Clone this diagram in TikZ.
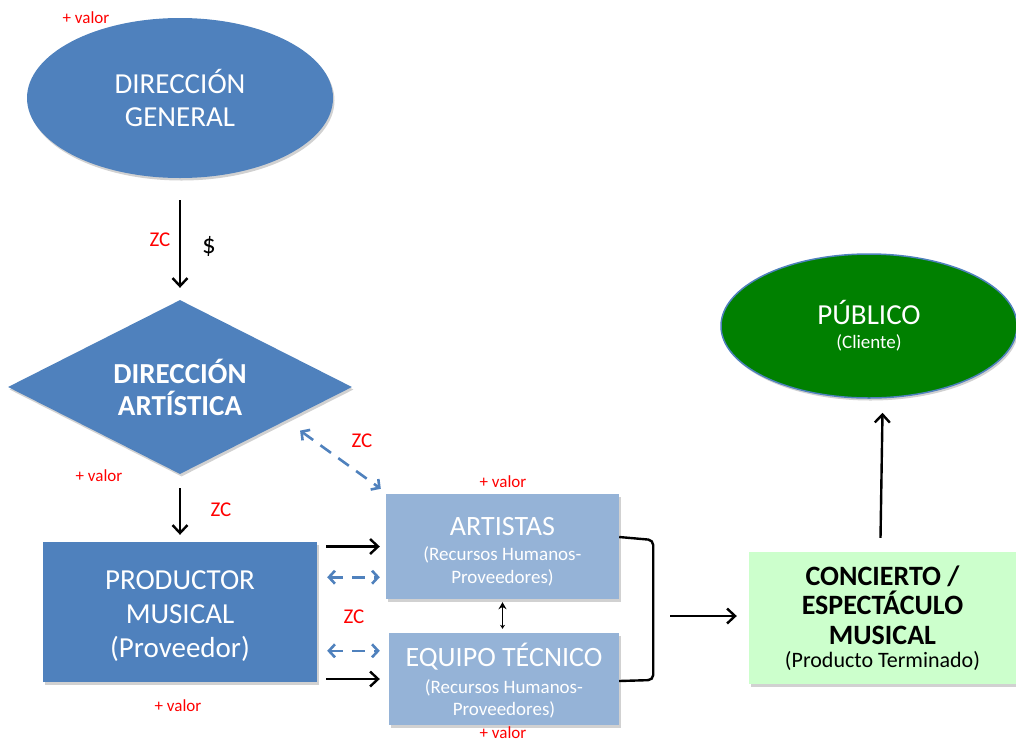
\documentclass[tikz,border=0pt]{standalone}
\usepackage{fontspec}
\setmainfont{Carlito}
\usetikzlibrary{shapes.geometric,arrows.meta,shadows,calc}

\definecolor{darkblue}{HTML}{4F81BD}
\definecolor{lightblue}{HTML}{95B3D7}
\definecolor{pubgreen}{HTML}{008000}
\definecolor{paleGreen}{HTML}{CCFFCC}

\newcommand{\fsz}[2]{\fontsize{#1}{#2}\selectfont}

\tikzset{
  softshadow/.style={drop shadow={shadow xshift=1.5pt,shadow yshift=-2.5pt,opacity=0.18,fill=black}},
  oval/.style={ellipse,inner sep=0pt,align=center,text=white,softshadow},
  boxnode/.style={rectangle,inner sep=0pt,align=center,softshadow},
  flowarrow/.style={line width=2.4pt,-{Straight Barb[length=8pt,width=15pt,line width=2.4pt]}},
  dasharrow/.style={line width=2.6pt,darkblue,dash pattern=on 13pt off 9pt,
    {Straight Barb[length=6pt,width=13pt,line width=2.6pt]}-{Straight Barb[length=6pt,width=13pt,line width=2.6pt]}},
  redlabel/.style={text=red,font=\fsz{17}{19},inner sep=0pt},
  zclabel/.style={text=red,font=\fsz{21}{23},inner sep=0pt},
}

\begin{document}
\begin{tikzpicture}[x=1pt,y=-1pt]
\useasboundingbox (0,0) rectangle (1016,742);

% Shapes
\node[oval,fill=darkblue,minimum width=306pt,minimum height=160pt,
      font=\fsz{29}{33}] (dg) at (180,98) {DIRECCIÓN\\GENERAL};

\node[diamond,fill=darkblue,inner sep=0pt,minimum width=344pt,minimum height=174pt,
      aspect=1.98,align=center,text=white,softshadow,
      font=\bfseries\fsz{29}{32}] (da) at (180,387) {\rule{0pt}{24pt}DIRECCIÓN\\ARTÍSTICA};

\node[boxnode,fill=darkblue,minimum width=274pt,minimum height=140pt,text=white,
      font=\fsz{29}{34}] (prod) at (180,612) {\rule{0pt}{26pt}PRODUCTOR\\MUSICAL\\(Proveedor)};

\node[boxnode,fill=lightblue,minimum width=233pt,minimum height=105pt,text=white,
      font=\fsz{19}{23}] (art) at (502.5,546.5)
  {{\fsz{28}{30}\rule{0pt}{28pt}ARTISTAS}\\[2pt](Recursos Humanos-\\Proveedores)};

\node[boxnode,fill=lightblue,minimum width=230pt,minimum height=92pt,text=white,
      font=\fsz{19}{22}] (eq) at (504,679)
  {{\fsz{28}{30}\rule{0pt}{27pt}EQUIPO TÉCNICO}\\[5pt](Recursos Humanos-\\Proveedores)};

\node[boxnode,fill=paleGreen,minimum width=267pt,minimum height=132pt,text=black,
      font=\bfseries\fsz{28}{29.5}] (con) at (882.5,618)
  {CONCIERTO /\\ESPECTÁCULO\\MUSICAL\\[-6.5pt]{\mdseries\fsz{22}{24}(Producto Terminado)}};

\node[oval,fill=pubgreen,draw=darkblue,line width=1.5pt,minimum width=296pt,minimum height=144pt,
      font=\fsz{19}{21}] (pub) at (869,326)
  {{\fsz{29}{31}PÚBLICO}\\[3pt](Cliente)};

% Labels
\node[redlabel] (v1) at (86,18) {+ valor};
\node[redlabel] (v2) at (99,476) {+ valor};
\node[redlabel] (v3) at (503,482) {+ valor};
\node[redlabel] (v4) at (178,706) {+ valor};
\node[redlabel] (v5) at (503,733) {+ valor};
\node[zclabel] (z1) at (160,240) {ZC};
\node[zclabel] (z2) at (221,510) {ZC};
\node[zclabel] (z3) at (362,441) {ZC};
\node[zclabel] (z4) at (354,617) {ZC};
\node[inner sep=0pt,font=\fsz{27}{29}] (dollar) at (209,246) {\$};

% Connectors
\draw[flowarrow] ([yshift=-22pt]dg.south) -- ([yshift=12pt]da.north);
\draw[flowarrow] ([yshift=-14pt]da.south) -- ([yshift=7pt]prod.north);

\draw[dasharrow] ([xshift=34pt]da.south east) -- ([xshift=-5pt,yshift=5pt]art.north west);

\draw[flowarrow] ([xshift=9pt]prod.east |- art.west) -- ([xshift=-6pt]art.west);
\draw[dasharrow] ([xshift=10pt,yshift=22pt]prod.east |- art.south) -- ([xshift=-6pt,yshift=22pt]art.south west);
\draw[dasharrow] ([xshift=10pt,yshift=-18pt]prod.east |- eq.north) -- ([xshift=-9pt,yshift=-18pt]eq.north west);
\draw[flowarrow] ([xshift=9pt]prod.east |- eq.west) -- ([xshift=-9pt]eq.west);

\draw[line width=1.4pt,{Stealth[length=7pt,width=8pt]}-{Stealth[length=4pt,width=5pt]}]
  ([yshift=-3pt]art.south) -- ([yshift=4pt]eq.north -| art.south);

% Bracket joining the two suppliers
\draw[line width=2.4pt,rounded corners=5pt] ([yshift=9.5pt]art.east) -- ++(34,3) -- ++(0,140) -- ([yshift=-2pt]eq.east);
\coordinate (join) at ([xshift=51pt,yshift=-69.5pt]art.east);
\draw[flowarrow] (join) -- ([xshift=-12pt,yshift=2pt]con.west);

\draw[flowarrow] ([xshift=-2pt,yshift=14pt]con.north) -- ([yshift=-14pt]pub.south -| con.north);
\end{tikzpicture}
\end{document}
